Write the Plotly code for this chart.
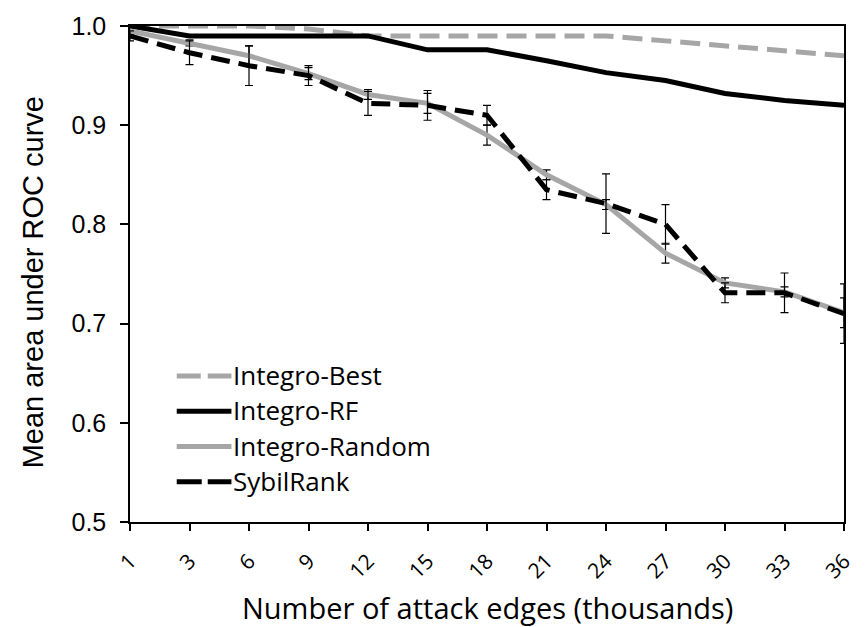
import plotly.graph_objects as go

categories = ["1", "3", "6", "9", "12", "15", "18", "21", "24", "27", "30", "33", "36"]
integro_best = [1.0, 1.0, 1.0, 0.997, 0.99, 0.99, 0.99, 0.99, 0.99, 0.985, 0.98, 0.975, 0.97]
integro_rf = [1.0, 0.99, 0.99, 0.99, 0.99, 0.976, 0.976, 0.965, 0.953, 0.945, 0.932, 0.925, 0.92]
integro_random = [0.995, 0.983, 0.97, 0.952, 0.931, 0.922, 0.89, 0.85, 0.82, 0.771, 0.741, 0.732, 0.711]
sybilrank = [0.99, 0.973, 0.96, 0.95, 0.922, 0.92, 0.91, 0.835, 0.821, 0.80, 0.731, 0.731, 0.71]
random_err = [0.004, 0.003, 0.01, 0.006, 0.005, 0.01, 0.01, 0.005, 0.005, 0.01, 0.005, 0.005, 0.015]
sybil_err = [0.005, 0.012, 0.02, 0.01, 0.012, 0.015, 0.01, 0.01, 0.03, 0.02, 0.01, 0.02, 0.03]
y_ticks = [0.5, 0.6, 0.7, 0.8, 0.9, 1.0]

series_names = ["Integro-Best", "Integro-RF", "Integro-Random", "SybilRank"]
series_colors = ["#a6a6a6", "#000000", "#a6a6a6", "#000000"]
series_dash = ["20px,9px", "solid", "solid", "19px,9px"]
legend_dash = ["24px,7px", "solid", "solid", "25px,6px"]

xi = list(range(len(categories)))
CAL = "Open Sans"
ARIAL = "Liberation Sans"

W, H = 868, 627
L, R, T, B = 130, 20, 16, 105
PW, PH = W - L - R, H - T - B


def px_x(p):
    return (p - L) / PW


def px_y(p):
    return (H - B - p) / PH


fig = go.Figure()
values = [integro_best, integro_rf, integro_random, sybilrank]
errors = [None, None, random_err, sybil_err]
for name, vals, col, dash, err in zip(series_names, values, series_colors, series_dash, errors):
    kw = {}
    if err is not None:
        kw["error_y"] = dict(type="data", array=err, color="#000000", thickness=1.2, width=4)
    fig.add_trace(go.Scatter(x=xi, y=vals, mode="lines", name=name, showlegend=False,
                             line=dict(color=col, width=5, dash=dash), **kw))

# manual legend (to match the compact spacing of the original)
leg_y = [373, 409, 445, 481]
for name, col, dash, yy in zip(series_names, series_colors, legend_dash, leg_y):
    fig.add_shape(type="line", xref="paper", yref="paper",
                  x0=px_x(177), x1=px_x(232), y0=px_y(yy), y1=px_y(yy),
                  line=dict(color=col, width=5, dash=dash))
    fig.add_annotation(text=name, xref="paper", yref="paper", x=px_x(233), y=px_y(yy - 1),
                       xanchor="left", yanchor="middle", showarrow=False, borderpad=0,
                       font=dict(family=CAL, size=26, color="black"))

# axis titles
fig.add_annotation(text="Number of attack edges (thousands)", xref="paper", yref="paper",
                   x=px_x(489), y=px_y(609), xanchor="center", yanchor="middle",
                   showarrow=False, font=dict(family=CAL, size=29, color="black"))
fig.add_annotation(text="Mean area under ROC curve", xref="paper", yref="paper",
                   x=px_x(32), y=px_y(278), xanchor="center", yanchor="middle",
                   textangle=-90, showarrow=False,
                   font=dict(family=ARIAL, size=29, color="black"))

fig.update_layout(
    width=W, height=H,
    margin=dict(l=L, r=R, t=T, b=B),
    paper_bgcolor="white", plot_bgcolor="white",
    font=dict(family=CAL, color="black", size=21),
    showlegend=False,
    xaxis=dict(
        range=[0, len(categories) - 1], tickmode="array", tickvals=xi, ticktext=categories,
        tickangle=-45, ticks="outside", ticklen=7, tickwidth=1.5, tickcolor="black",
        ticklabelstandoff=10,
        showline=True, linecolor="black", linewidth=1.5, mirror=True,
        showgrid=False, zeroline=False,
        tickfont=dict(size=21, family=CAL),
    ),
    yaxis=dict(
        range=[0.5, 1.0], tickmode="array", tickvals=y_ticks,
        ticktext=[f"{v:.1f}" for v in y_ticks],
        ticks="outside", ticklen=8, tickwidth=1.5, tickcolor="black",
        ticklabelstandoff=9,
        showline=True, linecolor="black", linewidth=1.5, mirror=True,
        showgrid=False, zeroline=False,
        tickfont=dict(size=25, family=ARIAL),
    ),
)

fig.write_html("out.html")
